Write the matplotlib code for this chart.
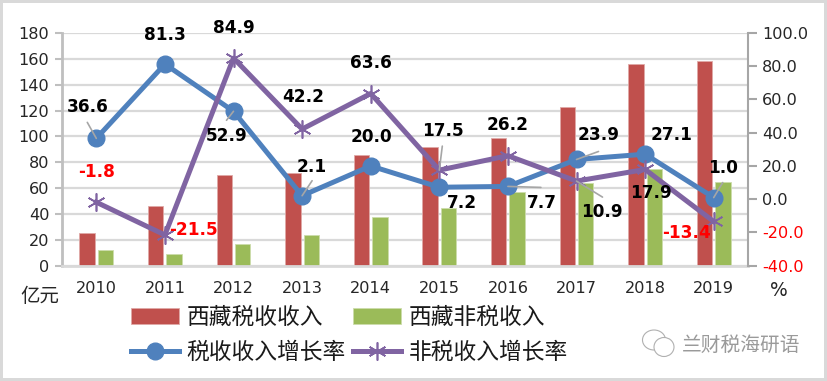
# tibet tax revenue, bars (left axis) and growth rates (right axis)
import numpy as np
import matplotlib
matplotlib.use('Agg')
import matplotlib.pyplot as plt
from matplotlib.patches import Ellipse

plt.rcParams['font.family'] = ['DejaVu Sans', 'Noto Sans CJK SC']

years = ['2010', '2011', '2012', '2013', '2014', '2015', '2016', '2017', '2018', '2019']
tax = [25, 46, 70, 72, 86, 92, 99, 123, 156, 158]
nontax = [12, 9, 17, 24, 38, 45, 57, 64, 75, 65]
tax_rate = [36.6, 81.3, 52.9, 2.1, 20.0, 7.2, 7.7, 23.9, 27.1, 1.0]
nontax_rate = [-1.8, -21.5, 84.9, 42.2, 63.6, 17.5, 26.2, 10.9, 17.9, -13.4]

# label offsets from the point, in pixels
tax_off = [(-9, 31), (0, 29), (-7, -25), (10, 29), (1, 29), (23, -16), (34, -17), (22, 24), (26, 19), (9, 30)]
nontax_off = [(0, 30), (29, 5), (0, 30), (1, 32), (0, 31), (4, 39), (0, 31), (25, -31), (6, -24), (-27, -12)]
# gray leader lines: series index, end of the line relative to the point
tax_lead = {0: (-9, 16), 2: (-7, -9), 3: (10, 15), 6: (33, -1), 7: (22, 8), 9: (9, 15)}
nontax_lead = {5: (3, 24), 7: (26, -16)}

C_RED = '#C0504D'
C_GREEN = '#9BBB59'
C_BLUE = '#4F81BD'
C_PURPLE = '#8064A2'
C_TEXT = '#262626'
C_GRID = '#D9D9D9'

W, H = 827, 381
fig = plt.figure(figsize=(W/100, H/100), dpi=100)
fig.patch.set_edgecolor(C_GRID)
fig.patch.set_linewidth(3.2)

ax = fig.add_axes([62/W, 1-265.7/H, 686/W, 232.7/H])
x = np.arange(len(years))
b1 = ax.bar(x-0.135, tax, 0.225, color=C_RED, edgecolor='#E0A9A7', linewidth=0.6)
b2 = ax.bar(x+0.135, nontax, 0.225, color=C_GREEN, edgecolor='#CCDDAC', linewidth=0.6)
ax.set_xlim(-0.5, 9.5)
ax.set_ylim(0, 180)
ax.set_yticks(range(0, 181, 20))
ax.set_xticks(x)
ax.set_xticklabels(years)
ax.set_axisbelow(True)
ax.grid(axis='y', color=C_GRID, lw=1.6)
ax.tick_params(axis='x', length=0, pad=11, labelsize=11.6, labelcolor=C_TEXT)
ax.tick_params(axis='y', length=5, width=1.5, color='#BFBFBF', pad=4, labelsize=11.6, labelcolor=C_TEXT)
for s in ['top', 'right']:
	ax.spines[s].set_visible(False)
ax.spines['left'].set_color('#BFBFBF')
ax.spines['left'].set_linewidth(2)
ax.spines['bottom'].set_color(C_GRID)
ax.spines['bottom'].set_linewidth(2)

ax2 = ax.twinx()
ax2.set_ylim(-40, 100)
ax2.set_yticks(range(-40, 101, 20))
ax2.set_yticklabels(['%.1f' % v for v in range(-40, 101, 20)])
ax2.tick_params(axis='y', length=6.5, width=1.5, color='#A6A6A6', pad=3.5, labelsize=11.6, labelcolor=C_TEXT)
for t, v in zip(ax2.get_yticklabels(), range(-40, 101, 20)):
	if v < 0:
		t.set_color('#FF0000')
for s in ['top', 'left', 'bottom']:
	ax2.spines[s].set_visible(False)
ax2.spines['right'].set_color('#A6A6A6')
ax2.spines['right'].set_linewidth(1.5)

l1, = ax2.plot(x, tax_rate, color=C_BLUE, lw=3.6, marker='o', ms=12)
l2, = ax2.plot(x, nontax_rate, color=C_PURPLE, lw=3.6, marker=(6, 2, 0), ms=13,
	markeredgecolor=C_PURPLE, markeredgewidth=1.2)

def leaders(vals, lead):
	for i, d in lead.items():
		ax2.annotate('', xy=(x[i], vals[i]), xytext=d, textcoords='offset pixels',
			arrowprops=dict(arrowstyle='-', color='#A6A6A6', lw=1.2, shrinkA=0, shrinkB=0))

def labels(vals, off):
	for i, v in enumerate(vals):
		ax2.annotate('%.1f' % v, xy=(x[i], v), xytext=off[i], textcoords='offset pixels',
			ha='center', va='center', fontsize=12.2, fontweight='bold',
			color='#FF0000' if v < 0 else 'black')

leaders(tax_rate, tax_lead)
leaders(nontax_rate, nontax_lead)
labels(tax_rate, tax_off)
labels(nontax_rate, nontax_off)

fig.legend([b1, l1, b2, l2], ['西藏税收收入', '税收收入增长率', '西藏非税收入', '非税收入增长率'],
	loc='upper left', bbox_to_anchor=(131/W, 1-306/H), ncols=2, frameon=False,
	prop={'family': 'Noto Sans CJK SC', 'size': 16.4}, labelcolor='#1A1A1A',
	borderpad=0, borderaxespad=0, handlelength=2.1, handletextpad=0.35,
	columnspacing=0.3, labelspacing=0.54)

fig.text(40/W, 1-296/H, '亿元', ha='center', va='center', fontsize=14, color=C_TEXT,
	family='Noto Sans CJK SC')
fig.text(779/W, 1-291/H, '%', ha='center', va='center', fontsize=13.5, color=C_TEXT)

# watermark
ov = fig.add_axes([0, 0, 1, 1])
ov.set_xlim(0, W)
ov.set_ylim(H, 0)
ov.axis('off')
ov.patch.set_alpha(0)
ov.add_patch(Ellipse((654, 340), 23, 20, fc='white', ec='#B0B0B0', lw=0.8))
ov.add_patch(Ellipse((664, 347), 20, 19, fc='white', ec='#B0B0B0', lw=0.8))
ov.text(741, 345, '兰财税海研语', ha='center', va='center', fontsize=14.2, color='#9A9A9A',
	family='Noto Sans CJK SC')

fig.savefig('out.png', dpi=100)
